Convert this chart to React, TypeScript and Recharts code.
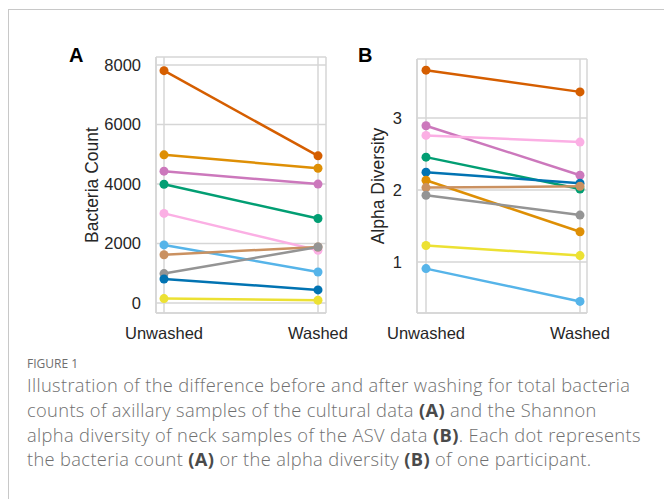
import React from 'react';
import { LineChart, Line, XAxis, YAxis, CartesianGrid } from 'recharts';

const groups = ['Unwashed', 'Washed'];

// panel A: bacteria counts per participant
const countColors = ['#d55e00', '#de8f05', '#cc78bc', '#029e73', '#fbafe4', '#56b4e9', '#ca9161', '#949494', '#0173b2', '#ece133'];
const countUnwashed = [7810, 4980, 4430, 3990, 3010, 1950, 1620, 985, 805, 145];
const countWashed = [4945, 4530, 3995, 2840, 1770, 1040, 1880, 1880, 436, 90];
const countTicks = [0, 2000, 4000, 6000, 8000];

// panel B: shannon alpha diversity per participant
const divColors = ['#d55e00', '#cc78bc', '#fbafe4', '#029e73', '#0173b2', '#de8f05', '#ca9161', '#949494', '#ece133', '#56b4e9'];
const divUnwashed = [3.665, 2.893, 2.758, 2.456, 2.247, 2.135, 2.033, 1.926, 1.228, 0.907];
const divWashed = [3.363, 2.205, 2.665, 2.014, 2.093, 1.419, 2.051, 1.651, 1.088, 0.451];
const divTicks = [1, 2, 3];

const captionLines = [
  'Illustration of the difference before and after washing for total bacteria',
  'counts of axillary samples of the cultural data (A) and the Shannon',
  'alpha diversity of neck samples of the ASV data (B). Each dot represents',
  'the bacteria count (A) or the alpha diversity (B) of one participant.',
];

const buildRows = (before: number[], after: number[]) =>
  groups.map((g, gi) => {
    const row: Record<string, string | number> = { group: g };
    (gi === 0 ? before : after).forEach((v, i) => {
      row[`p${i}`] = v;
    });
    return row;
  });

const FONT = '"Liberation Sans", Arial, sans-serif';
const CAPTION_FONT = '"Open Sans", sans-serif';
const GRID = '#d6d6d6';
const tickStyle = { fontSize: 16.5, fill: '#262626', fontFamily: FONT };

interface PanelProps {
  rows: Record<string, string | number>[];
  colors: string[];
  domain: [number, number];
  ticks: number[];
  label: string;
  width: number;
  height: number;
  margin: { top: number; right: number; bottom: number; left: number };
  yWidth: number;
  pad: { left: number; right: number };
}

const Panel: React.FC<PanelProps> = ({ rows, colors, domain, ticks, label, width, height, margin, yWidth, pad }) => (
  <LineChart width={width} height={height} data={rows} margin={margin}>
    <CartesianGrid stroke={GRID} strokeWidth={1.5} />
    <XAxis
      dataKey="group"
      padding={pad}
      tickSize={0}
      tickMargin={14}
      height={40}
      tick={tickStyle}
      axisLine={{ stroke: GRID, strokeWidth: 1.5 }}
    />
    <XAxis xAxisId="top" orientation="top" dataKey="group" padding={pad} height={0} tick={false} tickLine={false} axisLine={{ stroke: GRID, strokeWidth: 1.5 }} />
    <YAxis
      type="number"
      domain={domain}
      ticks={ticks}
      allowDataOverflow
      width={yWidth}
      tickSize={0}
      tickMargin={15}
      tick={tickStyle}
      axisLine={{ stroke: GRID, strokeWidth: 1.5 }}
      label={{ value: label, angle: -90, position: 'insideLeft', style: { textAnchor: 'middle', fill: '#262626' } }}
    />
    <YAxis yAxisId="right" orientation="right" width={0} tick={false} tickLine={false} axisLine={{ stroke: GRID, strokeWidth: 1.5 }} />
    {colors.map((c, i) => (
      <Line
        key={i}
        dataKey={`p${i}`}
        stroke={c}
        strokeWidth={2.5}
        dot={{ r: 4.5, fill: c, stroke: c, strokeWidth: 0 }}
        activeDot={false}
        isAnimationActive={false}
      />
    ))}
  </LineChart>
);

export default function App() {
  const rowsA = buildRows(countUnwashed, countWashed);
  const rowsB = buildRows(divUnwashed, divWashed);
  return (
    <div style={{ position: 'relative', width: 664, height: 499, background: '#fff', overflow: 'hidden', fontFamily: FONT }}>
      <style>{'body{margin:0} .recharts-text{font-family:"Liberation Sans",Arial,sans-serif !important;font-size:16.5px !important;} .recharts-text.recharts-label{font-size:17.5px !important;}'}</style>
      <div style={{ position: 'absolute', left: 8, top: 9, width: 700, height: 600, borderLeft: '1.5px solid #c8c8c8', borderTop: '1.5px solid #c8c8c8' }} />
      <div style={{ position: 'absolute', left: 0, top: 0 }}>
        <Panel
          rows={rowsA}
          colors={countColors}
          domain={[-340, 8270]}
          ticks={countTicks}
          label="Bacteria Count"
          width={365}
          height={350}
          margin={{ top: 57, right: 39, bottom: -3, left: 87 }}
          yWidth={69}
          pad={{ left: 8, right: 8 }}
        />
      </div>
      <div style={{ position: 'absolute', left: 340, top: 0 }}>
        <Panel
          rows={rowsB}
          colors={divColors}
          domain={[0.29, 3.82]}
          ticks={divTicks}
          label="Alpha Diversity"
          width={320}
          height={350}
          margin={{ top: 59, right: 73, bottom: -3, left: 33 }}
          yWidth={44}
          pad={{ left: 9, right: 7 }}
        />
      </div>
      <div style={{ position: 'absolute', left: 69, top: 44, fontWeight: 'bold', fontSize: 20, color: '#000' }}>A</div>
      <div style={{ position: 'absolute', left: 358, top: 44, fontWeight: 'bold', fontSize: 20, color: '#000' }}>B</div>
      <div style={{ position: 'absolute', left: 27, top: 356, fontFamily: CAPTION_FONT, fontSize: 12, lineHeight: '16px', color: '#6e6e6e' }}>FIGURE 1</div>
      <div style={{ position: 'absolute', left: 27, top: 373, fontFamily: CAPTION_FONT, fontSize: 18.3, lineHeight: '24.8px', letterSpacing: 0.35, color: '#707070', whiteSpace: 'nowrap', fontWeight: 300 }}>
        {captionLines.map((line, i) => (
          <div key={i}>
            {line.split(/(\([AB]\))/).map((part, j) =>
              /^\([AB]\)$/.test(part) ? (
                <b key={j} style={{ color: '#4a4a4a', fontWeight: 700 }}>{part}</b>
              ) : (
                <span key={j}>{part}</span>
              )
            )}
          </div>
        ))}
      </div>
    </div>
  );
}
